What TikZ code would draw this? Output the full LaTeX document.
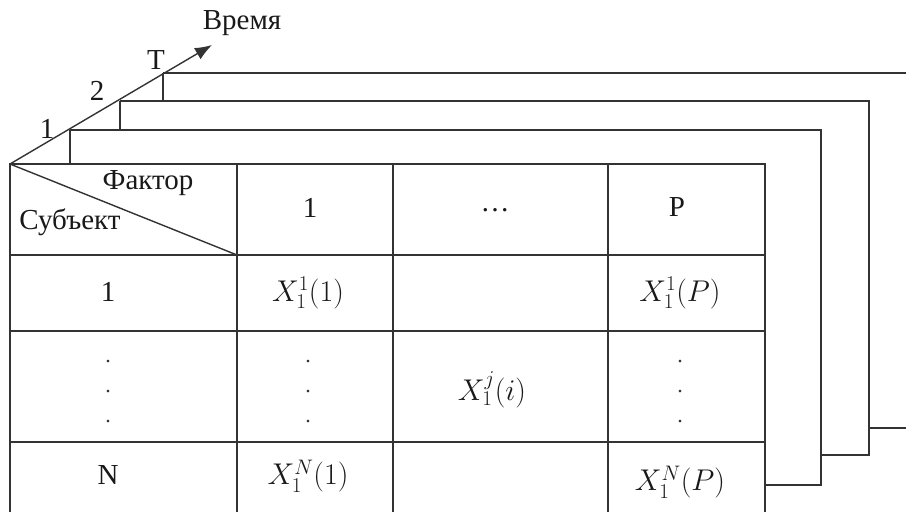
\RequirePackage{fix-cm}
\documentclass[tikz,border=0pt]{standalone}
\usepackage{fontspec}
\setmainfont{Liberation Serif}
\usetikzlibrary{arrows.meta}
\begin{document}
\begin{tikzpicture}[x=1pt,y=-1pt,
  line width=1.4pt, draw=black!80,
  lbl/.style={font=\fontsize{29}{32}\selectfont, inner sep=0pt, text=black!90},
  mth/.style={font=\fontsize{30}{34}\selectfont, inner sep=0pt, text=black!90},
  dotcol/.style={font=\fontsize{22}{30}\selectfont, inner sep=0pt, align=center, text=black!80}]
\useasboundingbox (0,0) rectangle (906,512);
% key points
\coordinate (O) at (10,164);
\coordinate (c1) at (70,130);
\coordinate (c2) at (120,101);
\coordinate (c3) at (163,73);
\coordinate (tip) at (212,45);
% back layers
\draw (c3) -- (c3 |- c2);
\draw (c3) -- (906,73);
\draw (869,428) -- (906,428);
\draw (c2) -- (c2 |- c1);
\draw (c2) -- (869,101) -- (869,455) -- (821,455);
\draw (c1) -- (c1 |- O);
\draw (c1) -- (821,130) -- (821,485) -- (765,485);
% time axis
\draw[-{Latex[length=17pt,width=13pt]}] (O) -- (tip);
\node[lbl] (t1) at (47,129) {1};
\node[lbl] (t2) at (97,91) {2};
\node[lbl] (tT) at (156,60) {T};
\node[lbl] (time) at (242,23) {Время};
% main table
\draw[fill=white] (765,512) -- (765,164) -- (O) -- (10,512);
\foreach \x in {237,393,608} \draw (\x,164) -- (\x,512);
\foreach \y in {255,331,442} \draw (10,\y) -- (765,\y);
\draw (O) -- (237,255);
% header
\node[lbl] (fak) at (148,183) {Фактор};
\node[lbl] (sub) at (70,222) {Субъект};
\node[lbl] (h1) at (310,208) {1};
\node[lbl] (hd) at (495,210) {\dots};
\node[lbl] (hP) at (677,207) {P};
% row 1
\node[lbl] (r1) at (108,292) {1};
\node[mth] (x11) at (308,293) {$X_1^1(1)$};
\node[mth] (x1P) at (680,293) {$X_1^1(P)$};
% row dots
\node[dotcol] (d0) at (108,392) {.\\.\\.};
\node[dotcol] (d1) at (308,392) {.\\.\\.};
\node[mth] (xji) at (492,390) {$X_1^j(i)$};
\node[dotcol] (d3) at (680,392) {.\\.\\.};
% row N
\node[lbl] (rN) at (108,475) {N};
\node[mth] (xN1) at (308,476) {$X_1^N(1)$};
\node[mth] (xNP) at (680,482) {$X_1^N(P)$};
\end{tikzpicture}
\end{document}
